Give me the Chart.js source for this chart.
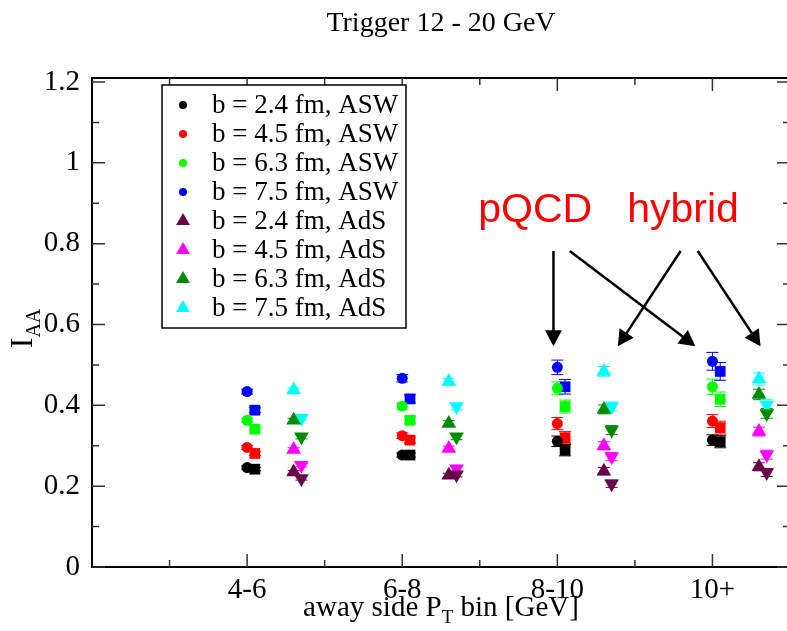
<!DOCTYPE html>
<html>
<head>
<meta charset="utf-8">
<script src="https://cdn.jsdelivr.net/npm/chart.js@4.4.0/dist/chart.umd.min.js"></script>
<style>
  html, body { margin: 0; padding: 0; background: #fff; overflow: hidden; }
  #wrap { width: 800px; height: 631px; }
</style>
</head>
<body>
<div id="wrap"><canvas id="iaaChart" width="800" height="631"></canvas></div>
<script>
// bins on the away side axis
const binLabels = ['4-6', '6-8', '8-10', '10+'];
const binX = [5, 7, 9, 11];
const yTickValues = [0, 0.2, 0.4, 0.6, 0.8, 1.0, 1.2];

const impactLabels = ['b = 2.4 fm', 'b = 4.5 fm', 'b = 6.3 fm', 'b = 7.5 fm'];
const colorsASW = ['#000000', '#ff0000', '#00ff00', '#0000ff'];
const colorsAdS = ['#670748', '#ff00ff', '#008b00', '#00ffff'];

// x of each column inside a bin
const xCircle = [5.0, 7.0, 9.0, 11.0];
const xSquare = [5.1, 7.1, 9.1, 11.1];
const xUp = [5.6, 7.6, 9.6, 11.6];
const xDown = [5.7, 7.7, 9.7, 11.7];

// I_AA, one row per impact parameter (2.4, 4.5, 6.3, 7.5 fm)
const aswCircle = [
    [0.246, 0.277, 0.311, 0.314],
    [0.296, 0.325, 0.355, 0.361],
    [0.363, 0.398, 0.442, 0.446],
    [0.434, 0.467, 0.494, 0.509]
];
const aswSquare = [
    [0.242, 0.277, 0.289, 0.310],
    [0.281, 0.314, 0.320, 0.345],
    [0.341, 0.363, 0.397, 0.415],
    [0.388, 0.416, 0.446, 0.484]
];
const adsUp = [
    [0.235, 0.227, 0.237, 0.248],
    [0.291, 0.293, 0.300, 0.335],
    [0.363, 0.355, 0.390, 0.427],
    [0.438, 0.459, 0.484, 0.465]
];
const adsDown = [
    [0.219, 0.228, 0.206, 0.234],
    [0.252, 0.243, 0.273, 0.278],
    [0.322, 0.322, 0.339, 0.380],
    [0.369, 0.397, 0.397, 0.401]
];

// error bars
const errCircle = [
    [0.004, 0.005, 0.013, 0.013],
    [0.005, 0.007, 0.015, 0.016],
    [0.005, 0.008, 0.016, 0.019],
    [0.006, 0.009, 0.018, 0.022]
];
const errSquare = [
    [0.004, 0.005, 0.014, 0.015],
    [0.005, 0.007, 0.015, 0.016],
    [0.005, 0.008, 0.016, 0.018],
    [0.006, 0.010, 0.018, 0.022]
];
const errUp = [
    [0.004, 0.005, 0.009, 0.010],
    [0.004, 0.006, 0.010, 0.011],
    [0.005, 0.007, 0.011, 0.013],
    [0.005, 0.008, 0.012, 0.015]
];
const errDown = [
    [0.004, 0.005, 0.009, 0.010],
    [0.004, 0.006, 0.010, 0.011],
    [0.005, 0.007, 0.011, 0.012],
    [0.005, 0.008, 0.011, 0.013]
];

// annotations (data units)
const noteText = ['pQCD', 'hybrid'];
const noteX = [7.98, 9.9];
const noteY = [0.853, 0.853];
const arrowFrom = [[8.95, 0.782], [9.16, 0.782], [10.59, 0.782], [10.81, 0.782]];
const arrowTo = [[8.95, 0.546], [10.78, 0.546], [9.78, 0.546], [11.62, 0.546]];

const serif = "'Liberation Serif', 'Times New Roman', serif";

function makeSet(label, xs, ys, errs, color, style, radius, rotation, inLegend) {
    return {
        label: label,
        data: xs.map((x, i) => ({x: x, y: ys[i]})),
        errors: errs,
        inLegend: inLegend,
        pointStyle: style,
        pointRotation: rotation,
        pointRadius: radius,
        pointHoverRadius: radius,
        pointBorderWidth: 0,
        backgroundColor: color,
        borderColor: color,
        showLine: false
    };
}

const datasets = [];
for (let i = 0; i < 4; i++) {
    datasets.push(makeSet(impactLabels[i] + ', ASW', xCircle, aswCircle[i], errCircle[i], colorsASW[i], 'circle', 5.5, 0, true));
}
for (let i = 0; i < 4; i++) {
    datasets.push(makeSet(impactLabels[i] + ', ASW (2)', xSquare, aswSquare[i], errSquare[i], colorsASW[i], 'rect', 7.6, 0, false));
}
for (let i = 0; i < 4; i++) {
    datasets.push(makeSet(impactLabels[i] + ', AdS', xUp, adsUp[i], errUp[i], colorsAdS[i], 'triangle', 8.5, 0, true));
}
for (let i = 0; i < 4; i++) {
    datasets.push(makeSet(impactLabels[i] + ', AdS (2)', xDown, adsDown[i], errDown[i], colorsAdS[i], 'triangle', 8.5, 180, false));
}

function drawMarker(ctx, ds, radius, x, y) {
    Chart.helpers.drawPoint(ctx, {
        pointStyle: ds.pointStyle,
        rotation: ds.pointRotation,
        radius: radius,
        borderWidth: 0
    }, x, y);
}

// error bars, frame with inward ticks, legend box, arrows and axis titles
const decorations = {
    id: 'decorations',
    beforeDatasetsDraw(chart) {
        const ctx = chart.ctx;
        const ys = chart.scales.y;
        ctx.save();
        ctx.lineWidth = 1;
        chart.data.datasets.forEach((ds, di) => {
            const meta = chart.getDatasetMeta(di);
            ctx.strokeStyle = ds.borderColor;
            meta.data.forEach((pt, j) => {
                const v = ds.data[j].y;
                const e = ds.errors[j];
                const y1 = ys.getPixelForValue(v + e);
                const y2 = ys.getPixelForValue(v - e);
                ctx.beginPath();
                ctx.moveTo(pt.x, y1); ctx.lineTo(pt.x, y2);
                ctx.moveTo(pt.x - 6, y1); ctx.lineTo(pt.x + 6, y1);
                ctx.moveTo(pt.x - 6, y2); ctx.lineTo(pt.x + 6, y2);
                ctx.stroke();
            });
        });
        ctx.restore();
    },
    afterDraw(chart) {
        const ctx = chart.ctx;
        const a = chart.chartArea;
        const xs = chart.scales.x;
        const ys = chart.scales.y;
        ctx.save();

        // frame
        ctx.strokeStyle = '#000';
        ctx.lineWidth = 2;
        ctx.strokeRect(a.left, a.top, a.right - a.left, a.bottom - a.top);

        // ticks pointing inward
        ctx.lineWidth = 1.5;
        ctx.strokeStyle = '#333';
        ctx.beginPath();
        binX.forEach(v => {
            const p = xs.getPixelForValue(v);
            ctx.moveTo(p, a.bottom); ctx.lineTo(p, a.bottom - 13);
            ctx.moveTo(p, a.top); ctx.lineTo(p, a.top + 13);
            const m = xs.getPixelForValue(v - 1);
            ctx.moveTo(m, a.bottom); ctx.lineTo(m, a.bottom - 7);
            ctx.moveTo(m, a.top); ctx.lineTo(m, a.top + 7);
        });
        yTickValues.forEach(v => {
            const p = ys.getPixelForValue(v);
            ctx.moveTo(a.left, p); ctx.lineTo(a.left + 13, p);
            ctx.moveTo(a.right, p); ctx.lineTo(a.right - 13, p);
            if (v < 1.2) {
                const m = ys.getPixelForValue(v + 0.1);
                ctx.moveTo(a.left, m); ctx.lineTo(a.left + 7, m);
                ctx.moveTo(a.right, m); ctx.lineTo(a.right - 7, m);
            }
        });
        ctx.stroke();

        // legend box
        const bx = a.left + 70, by = a.top + 7, bw = 244, bh = 243;
        ctx.fillStyle = '#fff';
        ctx.fillRect(bx, by, bw, bh);
        ctx.strokeStyle = '#000';
        ctx.lineWidth = 1.5;
        ctx.strokeRect(bx, by, bw, bh);
        ctx.font = '27px ' + serif;
        ctx.textBaseline = 'middle';
        ctx.textAlign = 'left';
        let row = 0;
        chart.data.datasets.forEach(ds => {
            if (!ds.inLegend) return;
            const ry = by + 20 + row * 29;
            ctx.fillStyle = ds.backgroundColor;
            drawMarker(ctx, ds, ds.pointStyle === 'circle' ? 4 : 8, bx + 21, ry);
            ctx.fillStyle = '#000';
            ctx.fillText(ds.label, bx + 50, ry + 1);
            row++;
        });

        // notes and arrows
        ctx.fillStyle = '#ff0000';
        ctx.font = '41px "Liberation Sans", Arial, sans-serif';
        ctx.textBaseline = 'alphabetic';
        noteText.forEach((t, i) => {
            ctx.fillText(t, xs.getPixelForValue(noteX[i]), ys.getPixelForValue(noteY[i]));
        });
        ctx.strokeStyle = '#000';
        ctx.fillStyle = '#000';
        ctx.lineWidth = 2.5;
        arrowFrom.forEach((f, i) => {
            const x1 = xs.getPixelForValue(f[0]), y1 = ys.getPixelForValue(f[1]);
            const x2 = xs.getPixelForValue(arrowTo[i][0]), y2 = ys.getPixelForValue(arrowTo[i][1]);
            const ang = Math.atan2(y2 - y1, x2 - x1);
            const hl = 16, hw = 8.5;
            ctx.beginPath();
            ctx.moveTo(x1, y1);
            ctx.lineTo(x2 - Math.cos(ang) * hl * 0.8, y2 - Math.sin(ang) * hl * 0.8);
            ctx.stroke();
            ctx.beginPath();
            ctx.moveTo(x2, y2);
            ctx.lineTo(x2 - Math.cos(ang) * hl - Math.sin(ang) * hw, y2 - Math.sin(ang) * hl + Math.cos(ang) * hw);
            ctx.lineTo(x2 - Math.cos(ang) * hl + Math.sin(ang) * hw, y2 - Math.sin(ang) * hl - Math.cos(ang) * hw);
            ctx.closePath();
            ctx.fill();
        });

        // x axis title with subscript
        ctx.fillStyle = '#000';
        const cx = (a.left + a.right) / 2;
        const big = '29px ' + serif, small = '19px ' + serif;
        const partA = 'away side P', partB = 'T', partC = ' bin [GeV]';
        ctx.font = big;
        const wA = ctx.measureText(partA).width, wC = ctx.measureText(partC).width;
        ctx.font = small;
        const wB = ctx.measureText(partB).width;
        let tx = cx - (wA + wB + wC) / 2;
        const base = 616;
        ctx.font = big; ctx.fillText(partA, tx, base);
        ctx.font = small; ctx.fillText(partB, tx + wA, base + 7);
        ctx.font = big; ctx.fillText(partC, tx + wA + wB, base);

        // y axis title I_AA
        ctx.translate(32, (a.top + a.bottom) / 2 + 6);
        ctx.rotate(-Math.PI / 2);
        ctx.font = '32px ' + serif;
        const wI = ctx.measureText('I').width;
        ctx.font = '20px ' + serif;
        const wAA = ctx.measureText('AA').width;
        ctx.font = '32px ' + serif;
        ctx.fillText('I', -(wI + wAA) / 2, 0);
        ctx.font = '20px ' + serif;
        ctx.fillText('AA', -(wI + wAA) / 2 + wI, 8);

        ctx.restore();
    }
};

const ctx = document.getElementById('iaaChart').getContext('2d');
const iaaChart = new Chart(ctx, {
    type: 'scatter',
    data: {datasets: datasets},
    options: {
        responsive: false,
        animation: false,
        layout: {padding: {left: 0, right: 10, top: 0, bottom: 0}},
        plugins: {
            legend: {display: false},
            tooltip: {enabled: false},
            title: {
                display: true,
                fullSize: false,
                text: 'Trigger 12 - 20 GeV',
                color: '#000',
                font: {family: serif, size: 28, weight: 'normal'},
                padding: {top: 7, bottom: 37.4}
            }
        },
        scales: {
            x: {
                type: 'linear',
                min: 3,
                max: 12,
                grid: {display: false, drawTicks: false},
                border: {display: false},
                afterBuildTicks: axis => axis.ticks = binX.map(v => ({value: v})),
                afterFit: scale => { scale.height = 64; },
                ticks: {
                    callback: (value, index) => binLabels[index],
                    color: '#000',
                    font: {family: serif, size: 29},
                    padding: 6,
                    maxRotation: 0,
                    autoSkip: false
                }
            },
            y: {
                min: 0,
                max: 1.21,
                grid: {display: false, drawTicks: false},
                border: {display: false},
                afterBuildTicks: axis => axis.ticks = yTickValues.map(v => ({value: v})),
                afterFit: scale => { scale.width = 92; },
                ticks: {
                    callback: value => String(Number(value.toFixed(1))),
                    color: '#000',
                    font: {family: serif, size: 29},
                    padding: 12
                }
            }
        }
    },
    plugins: [decorations]
});
</script>
</body>
</html>
